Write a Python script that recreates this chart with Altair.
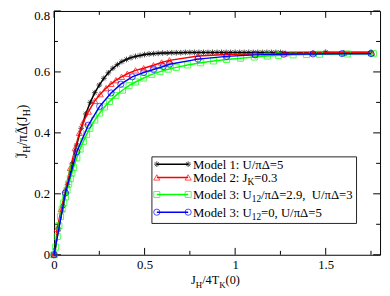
import altair as alt
import pandas as pd

# ---------------- data ----------------
series_names = ["Model 1", "Model 2", "Model 3a", "Model 3b"]

black_x = [0.000, 0.025, 0.050, 0.075, 0.100, 0.125, 0.150, 0.175, 0.200, 0.225,
           0.250, 0.275, 0.300, 0.325, 0.350, 0.375, 0.400, 0.425, 0.450, 0.475,
           0.500, 0.525, 0.550, 0.575, 0.600, 0.625, 0.650, 0.675, 0.700, 0.725,
           0.750, 0.775, 0.800, 0.825, 0.850, 0.875, 0.900, 0.925, 0.950, 0.975,
           1.000, 1.025, 1.050, 1.075, 1.100, 1.125, 1.150, 1.175, 1.200, 1.225,
           1.250, 1.500, 1.750]
black_y = [0.000, 0.085, 0.160, 0.230, 0.298, 0.360, 0.415, 0.462, 0.500, 0.532,
           0.557, 0.579, 0.597, 0.612, 0.624, 0.634, 0.641, 0.647, 0.651, 0.654,
           0.657, 0.659, 0.660, 0.661, 0.662, 0.662, 0.663, 0.663, 0.663, 0.664,
           0.664, 0.664, 0.664, 0.664, 0.664, 0.664, 0.664, 0.664, 0.664, 0.664,
           0.664, 0.664, 0.664, 0.664, 0.664, 0.664, 0.664, 0.664, 0.664, 0.664,
           0.664, 0.665, 0.665]

red_x = [0.000, 0.006, 0.017, 0.040, 0.063, 0.090, 0.117, 0.140, 0.162, 0.190,
         0.225, 0.255, 0.288, 0.315, 0.342, 0.373, 0.405, 0.450, 0.495, 0.549,
         0.594, 0.637, 0.795, 0.953, 1.110, 1.277, 1.430, 1.600, 1.754]
red_y = [0.000, 0.005, 0.085, 0.150, 0.213, 0.285, 0.350, 0.400, 0.435, 0.470,
         0.505, 0.527, 0.547, 0.561, 0.573, 0.584, 0.594, 0.605, 0.612, 0.622,
         0.631, 0.638, 0.652, 0.657, 0.659, 0.661, 0.662, 0.663, 0.663]

green_x = [0.000, 0.009, 0.018, 0.027, 0.036, 0.045, 0.054, 0.063, 0.072, 0.081,
           0.090, 0.099, 0.108, 0.126, 0.144, 0.162, 0.180, 0.198, 0.225, 0.252,
           0.279, 0.306, 0.342, 0.378, 0.414, 0.450, 0.495, 0.540, 0.585, 0.630,
           0.675, 0.738, 0.810, 0.881, 0.953, 1.030, 1.106, 1.178, 1.240, 1.320,
           1.394, 1.466, 1.620, 1.763]
green_y = [0.000, 0.025, 0.060, 0.095, 0.125, 0.150, 0.170, 0.190, 0.212, 0.232,
           0.250, 0.268, 0.287, 0.318, 0.347, 0.372, 0.395, 0.415, 0.442, 0.465,
           0.485, 0.503, 0.523, 0.540, 0.555, 0.567, 0.580, 0.592, 0.601, 0.609,
           0.615, 0.623, 0.630, 0.636, 0.641, 0.645, 0.649, 0.652, 0.654, 0.656,
           0.657, 0.658, 0.659, 0.660]

blue_x = [0.000, 0.063, 0.126, 0.189, 0.252, 0.315, 0.369, 0.432, 0.495, 0.549,
          0.603, 0.638, 0.795, 0.953, 1.110, 1.268, 1.430, 1.590, 1.750]
blue_y = [0.000, 0.203, 0.338, 0.425, 0.487, 0.531, 0.560, 0.584, 0.598, 0.608,
          0.618, 0.625, 0.642, 0.651, 0.656, 0.658, 0.659, 0.660, 0.660]

x_major = [0, 0.5, 1, 1.5]
x_minor = [0.25, 0.75, 1.25, 1.75]
y_major = [0, 0.2, 0.4, 0.6, 0.8]
y_minor = [0.1, 0.3, 0.5, 0.7]
y_labels = ["0", "0.2", "0.4", "0.6", "0.8"]

# ---------------- styling ----------------
W, H = 333, 249
FONT = "Liberation Serif"
colors = ["#000000", "#ff0000", "#00ff00", "#0000ff"]
ASTER = "M-1,0L1,0M0,-1L0,1M-0.7,-0.7L0.7,0.7M-0.7,0.7L0.7,-0.7"
shapes = [ASTER, "triangle-up", "square", "circle"]
sizes = [34, 40, 38, 40]

xs = alt.Scale(domain=[0, 1.8], nice=False, zero=False)
ys = alt.Scale(domain=[0, 0.8], nice=False, zero=False)
xaxis = alt.Axis(values=x_major, format="~g", ticks=False, domain=False, grid=False,
                 labelFont=FONT, labelFontSize=13, labelColor="#000", labelPadding=4,
                 labelFlush=False, labelOverlap=False, title=None)

dummy = pd.DataFrame({"d": [0]})
layers = []

# ticks (drawn inward, on all four sides)
def tick_layer(vals, horiz, side, length):
    df = pd.DataFrame({"v": vals})
    base = alt.Chart(df).mark_rule(color="#000", strokeWidth=1)
    if horiz:
        if side == "bottom":
            return base.encode(x=alt.X("v:Q", scale=xs, axis=xaxis),
                               y=alt.value(H), y2=alt.value(H - length))
        return base.encode(x=alt.X("v:Q", scale=xs, axis=xaxis),
                           y=alt.value(0), y2=alt.value(length))
    if side == "left":
        return base.encode(y=alt.Y("v:Q", scale=ys, axis=None),
                           x=alt.value(0), x2=alt.value(length))
    return base.encode(y=alt.Y("v:Q", scale=ys, axis=None),
                       x=alt.value(W), x2=alt.value(W - length))

for side in ["bottom", "top"]:
    layers.append(tick_layer(x_major, True, side, 7))
    layers.append(tick_layer(x_minor, True, side, 4))
for side in ["left", "right"]:
    layers.append(tick_layer(y_major, False, side, 7))
    layers.append(tick_layer(y_minor, False, side, 4))

# y tick labels (top one kept inside the picture)
ylab = pd.DataFrame({"v": y_major, "lbl": y_labels})
layers.append(alt.Chart(ylab[ylab.v < 0.75]).mark_text(
    font=FONT, fontSize=13, align="right", baseline="middle", color="#000")
    .encode(y=alt.Y("v:Q", scale=ys, axis=None), x=alt.value(-4), text="lbl:N"))
layers.append(alt.Chart(ylab[ylab.v > 0.75]).mark_text(
    font=FONT, fontSize=13, align="right", baseline="top", dy=-1, color="#000")
    .encode(y=alt.Y("v:Q", scale=ys, axis=None), x=alt.value(-4), text="lbl:N"))

# data series
all_x = [black_x, red_x, green_x, blue_x]
all_y = [black_y, red_y, green_y, blue_y]
for i, name in enumerate(series_names):
    df = pd.DataFrame({"x": all_x[i], "y": all_y[i], "series": name})
    enc = dict(x=alt.X("x:Q", scale=xs, axis=xaxis), y=alt.Y("y:Q", scale=ys, axis=None))
    layers.append(alt.Chart(df).mark_line(color=colors[i], strokeWidth=1.5).encode(**enc))
    layers.append(alt.Chart(df).mark_point(shape=shapes[i], size=sizes[i], filled=False,
                                           color=colors[i], strokeWidth=1).encode(**enc))

# ---------------- text helpers ----------------
CW = {" ": 250, "\u00a0": 250, ":": 278, ",": 250, ".": 250, "=": 564, "/": 278,
      "(": 333, ")": 333, "M": 889, "o": 500, "d": 500, "e": 444, "l": 278, "U": 722,
      "J": 389, "K": 722, "H": 722, "T": 611, "π": 530, "Δ": 620, "~": 541}


def tw(s, size):
    return sum(CW.get(c, 500) for c in s) * size / 1000.0


def text_layer(txt, x, y, size, angle=0, align="left"):
    kw = dict(text=txt, font=FONT, fontSize=size, align=align, baseline="alphabetic",
              color="#000")
    if angle:
        kw["angle"] = angle
    return alt.Chart(dummy).mark_text(**kw).encode(x=alt.value(x), y=alt.value(y))


def hrun(pieces, x0, base, main=13, sub=9.5, drop=3.5):
    out = []
    cx = x0
    for txt, kind in pieces:
        s = main if kind == "m" else sub
        out.append(text_layer(txt, cx, base + (0 if kind == "m" else drop), s))
        cx += tw(txt, s)
    return out

# legend box
layers.append(alt.Chart(dummy).mark_rect(fill="#ffffff", stroke="#222222", strokeWidth=1)
              .encode(x=alt.value(100), x2=alt.value(309), y=alt.value(149), y2=alt.value(217)))

legend_rows = [
    [("Model 1: U/πΔ=5", "m")],
    [("Model 2: J", "m"), ("K", "s"), ("=0.3", "m")],
    [("Model 3: U", "m"), ("12", "s"), ("/πΔ=2.9,\u00a0 U/πΔ=3", "m")],
    [("Model 3: U", "m"), ("12", "s"), ("=0, U/πΔ=5", "m")],
]
row_base = [161, 174.5, 192, 210]
for i, pieces in enumerate(legend_rows):
    ly = row_base[i] - 4.5
    layers.append(alt.Chart(dummy).mark_rule(color=colors[i], strokeWidth=1.5)
                  .encode(x=alt.value(105), x2=alt.value(137), y=alt.value(ly)))
    for px in (105, 137):
        layers.append(alt.Chart(dummy).mark_point(shape=shapes[i], size=sizes[i], filled=False,
                                                  color=colors[i], strokeWidth=1)
                      .encode(x=alt.value(px), y=alt.value(ly)))
    layers += hrun(pieces, 142, row_base[i])

# x-axis title: J_H/4T_K(0)
layers += hrun([("J", "m"), ("H", "s"), ("/4T", "m"), ("K", "s"), ("(0)", "m")],
               140, 279, main=12.5, sub=9, drop=3.5)

# y-axis title: J~_H/πΔ~(J_H), rotated
ymain, ysub = 14, 10
ypieces = [("J", "m"), ("H", "s"), ("/π", "m"), ("Δ", "m"), ("(J", "m"), ("H", "s"), (")", "m")]
total = sum(tw(t, ymain if k == "m" else ysub) for t, k in ypieces)
cy = 123 + total / 2
bx = -28
tilde_at = []
for t, k in ypieces:
    s = ymain if k == "m" else ysub
    w = tw(t, s)
    layers.append(text_layer(t, bx + (0 if k == "m" else 3.5), cy, s, angle=270))
    if t == "J" and len(tilde_at) == 0:
        tilde_at.append(cy - w / 2)
    if t == "Δ":
        tilde_at.append(cy - w / 2)
    cy -= w
for ty in tilde_at:
    layers.append(text_layer("~", bx - 8, ty, 9, angle=270, align="center"))

chart = alt.layer(*layers).properties(
    width=W, height=H,
    padding={"left": 47, "top": 0, "right": 2, "bottom": 36},
    autosize=alt.AutoSizeParams(type="none"),
    background="#ffffff",
).configure_view(stroke="#000000", strokeWidth=1)

chart.save("out.html", embed_options={"renderer": "svg", "actions": False})
